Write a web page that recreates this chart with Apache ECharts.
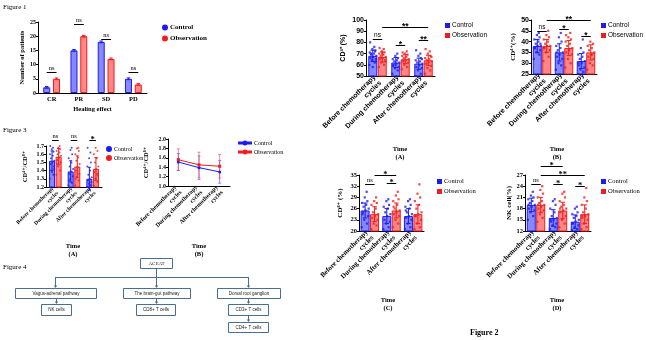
<!DOCTYPE html>
<html>
<head>
<meta charset="utf-8">
<script src="https://cdn.jsdelivr.net/npm/echarts@6/dist/echarts.min.js"></script>
<style>
html,body{margin:0;padding:0;background:#fff}
#main{width:646px;height:340px}
</style>
</head>
<body>
<div id="main"></div>
<script>
// ---- data ----
var fig1Cats = ['CR', 'PR', 'SD', 'PD'];
var fig1Control = [2, 15, 18, 5];
var fig1Observation = [5, 20, 12, 3];
var fig1Err = [0.3, 0.3, 0.3, 0.3];
var fig1Sig = [[0, 0, 0, 1, 7.4, 'ns'], [1, 0, 1, 1, 24.3, 'ns'], [2, 0, 2, 1, 19, 'ns'], [3, 0, 3, 1, 7.4, 'ns']];

var timeCats = ['Before chemotherapy\ncycles', 'During chemotherapy\ncycles', 'After chemotherapy\ncycles'];

// Figure 3 (A) CD4+/CD8+
var ratioControl = [1.52, 1.39, 1.30];
var ratioObservation = [1.57, 1.45, 1.42];
var ratioControlSd = [0.12, 0.13, 0.14];
var ratioObservationSd = [0.10, 0.13, 0.14];
var ratioControlDots = [
  [1.3, 1.35, 1.4, 1.45, 1.48, 1.5, 1.52, 1.55, 1.58, 1.6, 1.63, 1.66, 1.68, 1.7, 1.42, 1.38],
  [1.22, 1.25, 1.3, 1.33, 1.36, 1.39, 1.42, 1.45, 1.5, 1.55, 1.6, 1.65, 1.68, 1.28],
  [1.2, 1.22, 1.24, 1.26, 1.28, 1.3, 1.32, 1.35, 1.4, 1.45, 1.5, 1.55, 1.62, 1.68]
];
var ratioObservationDots = [
  [1.35, 1.4, 1.45, 1.5, 1.53, 1.56, 1.58, 1.6, 1.62, 1.64, 1.66, 1.68, 1.7, 1.48],
  [1.22, 1.28, 1.32, 1.36, 1.4, 1.44, 1.48, 1.52, 1.56, 1.6, 1.64, 1.67, 1.68, 1.3],
  [1.22, 1.26, 1.3, 1.34, 1.38, 1.42, 1.45, 1.5, 1.55, 1.6, 1.64, 1.68, 1.36]
];
var ratioSig = [[0, 0, 0, 1, 1.77, 'ns'], [1, 0, 1, 1, 1.77, 'ns'], [2, 0, 2, 1, 1.77, '*']];

// Figure 3 (B) line
var ratioLineControl = [1.51, 1.39, 1.30];
var ratioLineObservation = [1.56, 1.45, 1.42];
var ratioLineControlSd = [0.18, 0.25, 0.24];
var ratioLineObservationSd = [0.23, 0.27, 0.25];

// Figure 2 (A) CD3+
var cd3Control = [68, 62, 61];
var cd3Observation = [67, 65, 64];
var cd3ControlSd = [5, 4.5, 5];
var cd3ObservationSd = [4.5, 4, 4.5];
var cd3ControlDots = [
  [60, 62, 64, 65, 66, 67, 68, 69, 70, 71, 72, 74, 76, 80, 63, 58, 70, 73],
  [52, 55, 57, 58, 60, 61, 62, 63, 64, 65, 66, 68, 70, 59],
  [50, 52, 55, 57, 58, 60, 61, 62, 63, 64, 66, 68, 70, 73, 65]
];
var cd3ObservationDots = [
  [58, 60, 62, 64, 65, 66, 67, 68, 69, 70, 71, 72, 74, 75, 63, 70],
  [56, 58, 60, 62, 63, 64, 65, 66, 67, 68, 69, 70, 72, 71],
  [52, 55, 57, 59, 61, 62, 63, 64, 65, 66, 68, 70, 72, 74, 67]
];
var cd3Sig = [[0, 0, 0, 1, 83, 'ns'], [1, 0, 1, 1, 77.7, '*'], [2, 0, 2, 1, 82, '**'], [0, 1, 2, 1, 94, '**']];

// Figure 2 (B) CD4+
var cd4Control = [38, 35, 31];
var cd4Observation = [38, 37, 35];
var cd4ControlSd = [3, 4, 3.5];
var cd4ObservationSd = [3, 3.5, 3.5];
var cd4ControlDots = [
  [32, 34, 35, 36, 37, 38, 38, 39, 40, 41, 42, 43, 44, 37, 39],
  [27, 29, 30, 32, 33, 34, 35, 36, 37, 38, 40, 42, 44, 35],
  [25, 26, 27, 28, 29, 30, 31, 32, 33, 34, 35, 37, 41, 30]
];
var cd4ObservationDots = [
  [31, 33, 35, 36, 37, 38, 38, 39, 40, 41, 42, 43, 45, 37],
  [28, 30, 32, 34, 35, 36, 37, 38, 39, 40, 41, 42, 44, 43],
  [27, 29, 30, 32, 33, 34, 35, 36, 37, 38, 39, 40, 34]
];
var cd4Sig = [[0, 0, 0, 1, 44.8, 'ns'], [1, 0, 1, 1, 45.8, '*'], [2, 0, 2, 1, 42.5, '*'], [0, 1, 2, 1, 50, '**']];

// Figure 2 (C) CD8+
var cd8Control = [25.5, 24, 24];
var cd8Observation = [24.5, 25.5, 24.5];
var cd8ControlSd = [2, 2, 2];
var cd8ObservationSd = [2, 2, 2.5];
var cd8ControlDots = [
  [21, 22, 23, 24, 25, 25.5, 26, 26.5, 27, 27.5, 28, 29, 30.5, 24.5],
  [20.5, 21, 22, 22.5, 23, 24, 24.5, 25, 26, 26.5, 27, 28, 28.5],
  [20.5, 21, 22, 23, 23.5, 24, 24.5, 25, 26, 26.5, 27, 28, 28.5, 25.5]
];
var cd8ObservationDots = [
  [20.5, 21.5, 22, 23, 23.5, 24, 24.5, 25, 26, 27, 27.5, 28, 29],
  [21, 22, 23, 24, 24.5, 25, 25.5, 26, 27, 28, 28.5, 29.5, 30.5, 26.5],
  [20.5, 21, 22, 23, 24, 24.5, 25, 26, 27, 28, 29, 30, 32.5, 24]
];
var cd8Sig = [[0, 0, 0, 1, 32.6, 'ns'], [1, 0, 1, 1, 32.9, '*'], [0, 1, 1, 1, 35, '*']];

// Figure 2 (D) NK cell
var nkControl = [19, 15.5, 14.5];
var nkObservation = [19, 17.5, 16.5];
var nkControlSd = [1.8, 2.2, 1.8];
var nkObservationSd = [2, 2.2, 2.5];
var nkControlDots = [
  [15, 16, 17, 17.5, 18, 18.5, 19, 19.5, 20, 20.5, 21, 21.5, 22.5, 19],
  [12.5, 13, 13.5, 14, 14.5, 15, 15.5, 16, 17, 18, 19, 20, 20.5, 15],
  [12.2, 12.5, 13, 13.5, 14, 14.5, 15, 15.5, 16, 16.5, 17, 18, 18.5, 14]
];
var nkObservationDots = [
  [14.5, 15.5, 16.5, 17.5, 18, 18.5, 19, 19.5, 20, 21, 22, 23, 24, 19],
  [13, 14, 15, 16, 17, 17.5, 18, 18.5, 19, 20, 21, 22, 22.5, 18],
  [12.5, 13, 14, 15, 15.5, 16, 16.5, 17, 18, 19, 20, 21, 23.5, 16]
];
var nkSig = [[0, 0, 0, 1, 24.6, 'ns'], [1, 0, 1, 1, 24.6, '*'], [2, 0, 2, 1, 24, '*'], [0, 1, 2, 1, 27, '**'], [0, 1, 1, 1, 29.4, '*']];

// ---- styles ----
var BLUE = '#1c1cf2', RED = '#f21c1c';
var BLUE_FILL = 'rgba(70,70,255,0.65)', RED_FILL = 'rgba(255,70,70,0.65)';
var SERIF = '"Liberation Serif", "DejaVu Serif", serif';
var SANS = '"Liberation Sans", Arial, sans-serif';
var jitter = [-0.9, 0.5, -0.2, 0.8, -0.6, 0.1, 0.95, -0.4, 0.3, -0.8, 0.6, -0.1, 0.4, -0.7, 0.85, 0, -0.5, 0.7];

var grids = [], xAxes = [], yAxes = [], series = [], legends = [], graphics = [];

function fmtFixed(d) { return function (v) { return d == null ? v : v.toFixed(d); }; }

function addAxes(k, p) {
  grids.push(p.grid);
  xAxes.push({
    type: 'category', gridIndex: k, data: p.cats,
    axisLine: { lineStyle: { color: '#000', width: 1 } },
    axisTick: { alignWithLabel: true, length: 2, lineStyle: { color: '#000' } },
    axisLabel: { interval: 0, rotate: p.rotate || 0, margin: p.labelMargin || 3, fontSize: p.catSize, lineHeight: p.catSize + 1,
      fontWeight: 'bold', fontFamily: p.font, color: '#000' },
    name: p.xName || '', nameLocation: 'middle', nameGap: p.xNameGap || 0,
    nameTextStyle: { fontSize: 6.5, fontWeight: 'bold', fontFamily: SERIF, color: '#000' }
  });
  yAxes.push({
    type: 'value', gridIndex: k, min: p.y[0], max: p.y[1], interval: p.y[2],
    axisLine: { show: true, lineStyle: { color: '#000', width: 1 } },
    axisTick: { show: true, length: 2, lineStyle: { color: '#000' } },
    splitLine: { show: false },
    axisLabel: { fontSize: p.tickSize, fontWeight: 'bold', fontFamily: p.font, color: '#000', margin: 2, formatter: fmtFixed(p.dec) },
    name: p.yName, nameLocation: 'middle', nameGap: p.yNameGap,
    nameTextStyle: { fontSize: p.yNameSize || 7, fontWeight: 'bold', fontFamily: p.yNameFont || p.font, color: '#000' }
  });
  var small = p.legendShape === 'rect';
  legends.push({
    left: p.legend[0], top: p.legend[1], orient: 'vertical', padding: 0, itemGap: p.legendGap || 3,
    itemWidth: p.legendIcon ? 12 : (small ? 3 : 4), itemHeight: small ? 3 : 4, selectedMode: false,
    textStyle: { fontSize: p.legendSize || 6.5, fontFamily: p.legendFont || p.font, fontWeight: p.legendBold ? 'bold' : 'normal', color: '#000', padding: [0, 0, 0, -2] },
    data: [
      { name: 'Control', icon: p.legendIcon || p.legendShape || 'circle', itemStyle: { color: BLUE } },
      { name: 'Observation', icon: p.legendIcon || p.legendShape || 'circle', itemStyle: { color: RED } }
    ]
  });
  if (p.time) {
    graphics.push({ type: 'text', x: p.time[0], y: p.time[1], z: 10,
      style: { text: 'Time\n' + p.time[2], align: 'center', verticalAlign: 'top', lineHeight: 8,
        font: 'bold 6.5px ' + SERIF, fill: '#000' } });
  }
}

function errSeries(k, means, sds, off, color, capW) {
  series.push({
    type: 'custom', xAxisIndex: k, yAxisIndex: k, silent: true, z: 4,
    data: means.map(function (m, i) { return [i, m, sds[i]]; }),
    renderItem: function (params, api) {
      var i = api.value(0), m = api.value(1), s = api.value(2);
      var hi = api.coord([i, m + s]), lo = api.coord([i, m - s]);
      var x = hi[0] + off;
      var st = { stroke: color, lineWidth: 1 };
      return { type: 'group', children: [
        { type: 'line', shape: { x1: x, y1: hi[1], x2: x, y2: lo[1] }, style: st },
        { type: 'line', shape: { x1: x - capW / 2, y1: hi[1], x2: x + capW / 2, y2: hi[1] }, style: st },
        { type: 'line', shape: { x1: x - capW / 2, y1: lo[1], x2: x + capW / 2, y2: lo[1] }, style: st }
      ] };
    }
  });
}

function sigSeries(k, sig, off, font, size) {
  series.push({
    type: 'custom', xAxisIndex: k, yAxisIndex: k, silent: true, z: 6,
    data: sig.map(function (s) { return [s[0], s[4]]; }),
    renderItem: function (params, api) {
      var s = sig[params.dataIndex];
      var a = api.coord([s[0], s[4]]), b = api.coord([s[2], s[4]]);
      var x0 = a[0] + (s[1] ? off : -off), x1 = b[0] + (s[3] ? off : -off);
      var y = Math.round(a[1]) + 0.5;
      var star = s[5].indexOf('*') >= 0;
      return { type: 'group', children: [
        { type: 'line', shape: { x1: x0, y1: y, x2: x1, y2: y }, style: { stroke: '#000', lineWidth: 1 } },
        { type: 'text', style: { text: s[5], x: (x0 + x1) / 2, y: y + (star ? 4 : -0.5), align: 'center',
          verticalAlign: 'bottom', font: (star ? 'bold ' + (size + 2) : size) + 'px ' + font, fill: '#000' } }
      ] };
    }
  });
}

function dotData(groups, off, spread) {
  var out = [];
  groups.forEach(function (vals, i) {
    vals.forEach(function (v, j) {
      out.push({ value: [i, v], symbolOffset: [off + jitter[j % jitter.length] * spread, 0] });
    });
  });
  return out;
}

function addBarPanel(k, p, d) {
  addAxes(k, p);
  var gapPx = p.bw * p.gap / 100;
  var off = (p.bw + gapPx) / 2;
  series.push({ name: 'Control', type: 'bar', xAxisIndex: k, yAxisIndex: k, data: d.c, barWidth: p.bw, barGap: p.gap + '%',
    itemStyle: { color: BLUE_FILL, borderColor: BLUE, borderWidth: 1 }, z: 2 });
  series.push({ name: 'Observation', type: 'bar', xAxisIndex: k, yAxisIndex: k, data: d.o, barWidth: p.bw, barGap: p.gap + '%',
    itemStyle: { color: RED_FILL, borderColor: RED, borderWidth: 1 }, z: 2 });
  if (d.cDots) {
    series.push({ name: 'Control', type: 'scatter', xAxisIndex: k, yAxisIndex: k, symbol: p.dotShape || 'circle', symbolSize: p.dot,
      itemStyle: { color: BLUE }, data: dotData(d.cDots, -off, p.bw * 0.42), z: 3 });
    series.push({ name: 'Observation', type: 'scatter', xAxisIndex: k, yAxisIndex: k, symbol: p.dotShape || 'circle', symbolSize: p.dot,
      itemStyle: { color: RED }, data: dotData(d.oDots, off, p.bw * 0.42), z: 3 });
  }
  errSeries(k, d.c, d.cSd, -off, BLUE, p.bw * 0.5);
  errSeries(k, d.o, d.oSd, off, RED, p.bw * 0.5);
  sigSeries(k, d.sig, off, p.sigFont || p.font, p.sigSize || 6.5);
}

// Figure 1
addBarPanel(0, {
  grid: { left: 38, top: 22, width: 109, height: 71 }, cats: fig1Cats, y: [0, 25, 5], font: SERIF,
  catSize: 6.5, tickSize: 6, bw: 7, gap: 40, xName: 'Healing effect', xNameGap: 13,
  yName: 'Number of patients', yNameGap: 11, yNameSize: 6.5, legend: [162, 24], legendBold: true, legendSize: 7, legendGap: 4
}, { c: fig1Control, o: fig1Observation, cSd: fig1Err, oSd: fig1Err, sig: fig1Sig });

// Figure 3 (A)
addBarPanel(1, {
  grid: { left: 46, top: 146, width: 56, height: 41 }, cats: timeCats, y: [1.2, 1.7, 0.1], dec: 1, font: SERIF,
  catSize: 5.5, tickSize: 6, rotate: 45, bw: 6, gap: 10, dot: 2, yName: 'CD⁴⁺/CD⁸⁺', yNameGap: 17, yNameSize: 6.5,
  legend: [106, 146], legendSize: 6, time: [73, 242, '(A)']
}, { c: ratioControl, o: ratioObservation, cSd: ratioControlSd, oSd: ratioObservationSd,
  cDots: ratioControlDots, oDots: ratioObservationDots, sig: ratioSig });

// Figure 3 (B)
(function () {
  var k = 2;
  addAxes(k, { grid: { left: 168, top: 139, width: 62, height: 47 }, cats: timeCats, y: [1.0, 2.0, 0.2], dec: 1,
    font: SERIF, catSize: 6, tickSize: 6, rotate: 45, yName: 'CD⁴⁺/CD⁸⁺', yNameGap: 18, yNameSize: 6.5,
    legend: [238, 140], legendSize: 6, legendIcon: 'path://M0,2h12v0.8h-12z M4.5,2.4a1.5,1.5 0 1,0 3,0a1.5,1.5 0 1,0 -3,0z',
    time: [199, 242, '(B)'] });
  series.push({ name: 'Control', type: 'line', xAxisIndex: k, yAxisIndex: k, data: ratioLineControl, symbol: 'circle', symbolSize: 3,
    itemStyle: { color: BLUE }, lineStyle: { color: BLUE, width: 1 }, z: 5 });
  series.push({ name: 'Observation', type: 'line', xAxisIndex: k, yAxisIndex: k, data: ratioLineObservation, symbol: 'rect', symbolSize: 3,
    itemStyle: { color: RED }, lineStyle: { color: RED, width: 1 }, z: 5 });
  errSeries(k, ratioLineControl, ratioLineControlSd, 0, 'rgba(60,60,255,0.6)', 3);
  errSeries(k, ratioLineObservation, ratioLineObservationSd, 0, 'rgba(255,60,60,0.6)', 3);
})();

// Figure 2 (A)-(D)
addBarPanel(3, {
  grid: { left: 366, top: 20, width: 69, height: 56 }, cats: timeCats, y: [50, 100, 10], font: SANS,
  catSize: 7, tickSize: 7, rotate: 45, bw: 9, gap: 5, dot: 2.2, dotShape: 'rect', yName: 'CD³⁺ (%)', yNameGap: 19,
  legend: [445, 22], legendSize: 6.5, legendShape: 'rect', sigFont: SANS, sigSize: 6.5, time: [400, 145, '(A)']
}, { c: cd3Control, o: cd3Observation, cSd: cd3ControlSd, oSd: cd3ObservationSd,
  cDots: cd3ControlDots, oDots: cd3ObservationDots, sig: cd3Sig });

addBarPanel(4, {
  grid: { left: 531, top: 20, width: 66, height: 54 }, cats: timeCats, y: [25, 50, 5], font: SANS,
  catSize: 7, tickSize: 7, rotate: 45, bw: 9, gap: 5, dot: 2.2, dotShape: 'rect', yName: 'CD⁴⁺(%)', yNameGap: 14,
  yNameFont: SERIF, legend: [601, 22], legendSize: 6.5, legendShape: 'rect', legendFont: SANS, sigFont: SANS, sigSize: 6.5,
  time: [557, 145, '(B)']
}, { c: cd4Control, o: cd4Observation, cSd: cd4ControlSd, oSd: cd4ObservationSd,
  cDots: cd4ControlDots, oDots: cd4ObservationDots, sig: cd4Sig });

addBarPanel(5, {
  grid: { left: 359, top: 175, width: 65, height: 56 }, cats: timeCats, y: [20, 35, 3], font: SERIF,
  catSize: 7, tickSize: 6.5, rotate: 45, bw: 9, gap: 5, dot: 2.2, dotShape: 'rect', yName: 'CD⁸⁺ (%)', yNameGap: 15,
  legend: [437, 178], legendSize: 6.5, legendShape: 'rect', time: [388, 296, '(C)']
}, { c: cd8Control, o: cd8Observation, cSd: cd8ControlSd, oSd: cd8ObservationSd,
  cDots: cd8ControlDots, oDots: cd8ObservationDots, sig: cd8Sig });

addBarPanel(6, {
  grid: { left: 525, top: 175, width: 66, height: 56 }, cats: timeCats, y: [12, 27, 3], font: SERIF,
  catSize: 7, tickSize: 6.5, rotate: 45, bw: 9, gap: 5, dot: 2.2, dotShape: 'rect', yName: 'NK cell(%)', yNameGap: 12,
  legend: [601, 178], legendSize: 6.5, legendShape: 'rect', time: [557, 296, '(D)']
}, { c: nkControl, o: nkObservation, cSd: nkControlSd, oSd: nkObservationSd,
  cDots: nkControlDots, oDots: nkObservationDots, sig: nkSig });

// ---- figure captions ----
function caption(x, y, text, bold, size) {
  graphics.push({ type: 'text', x: x, y: y, style: { text: text, font: (bold ? 'bold ' : '') + size + 'px ' + SERIF, fill: '#000' } });
}
caption(3, 4, 'Figure 1', false, 7);
caption(3, 127, 'Figure 3', false, 7);
caption(3, 264, 'Figure 4', false, 7);
caption(470, 329, 'Figure 2', true, 8);

// ---- Figure 4 flow chart ----
var BOX = '#4a6d92';
function box(x, y, w, h, text, font) {
  graphics.push({ type: 'rect', shape: { x: x + 0.5, y: y + 0.5, width: w, height: h }, style: { fill: '#fff', stroke: BOX, lineWidth: 1 } });
  graphics.push({ type: 'text', x: x + w / 2 + 0.5, y: y + h / 2 + 0.5,
    style: { text: text, align: 'center', verticalAlign: 'middle', font: font || ('4.5px ' + SANS), fill: '#222' } });
}
function vline(x, y1, y2, arrow) {
  graphics.push({ type: 'line', shape: { x1: x + 0.5, y1: y1, x2: x + 0.5, y2: arrow ? y2 - 2 : y2 }, style: { stroke: BOX, lineWidth: 1 } });
  if (arrow) graphics.push({ type: 'polygon', shape: { points: [[x - 1.2, y2 - 2.5], [x + 2.2, y2 - 2.5], [x + 0.5, y2]] }, style: { fill: BOX } });
}
function hline(x1, x2, y) {
  graphics.push({ type: 'line', shape: { x1: x1, y1: y + 0.5, x2: x2, y2: y + 0.5 }, style: { stroke: BOX, lineWidth: 1 } });
}
box(140, 258, 32, 10, 'ACEAT', '5px ' + SERIF);
vline(156, 268, 288, true);
hline(55, 248, 277);
vline(55, 277, 288, true);
vline(248, 277, 288, true);
box(15, 288, 81, 10, 'Vagus-adrenal pathway');
box(123, 288, 67, 10, 'The brain-gut pathway');
box(217, 288, 63, 10, 'Dorsal root ganglion');
vline(56, 298, 304, true);
vline(156, 298, 304, true);
vline(248, 298, 304, true);
box(41, 304, 30, 11, 'NK cells');
box(136, 304, 39, 11, 'CD8+ T cells');
box(228, 304, 40, 11, 'CD3+ T cells');
vline(248, 315, 322, true);
box(228, 322, 40, 10, 'CD4+ T cells');

var chart = echarts.init(document.getElementById('main'));
chart.setOption({
  animation: false,
  backgroundColor: '#fff',
  grid: grids,
  xAxis: xAxes,
  yAxis: yAxes,
  legend: legends,
  series: series,
  graphic: graphics
});
</script>
</body>
</html>
